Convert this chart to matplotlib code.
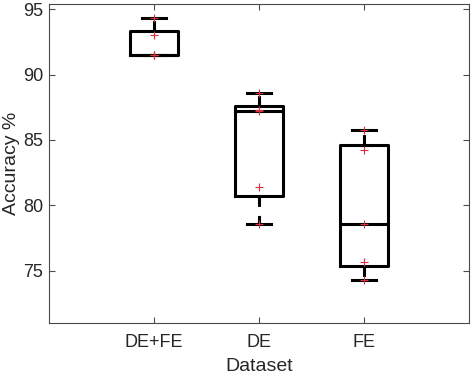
import numpy as np
import matplotlib
matplotlib.use("Agg")
import matplotlib.pyplot as plt

plt.rcParams["font.family"] = ["Liberation Sans", "DejaVu Sans"]
plt.rcParams["lines.scale_dashes"] = False

# accuracy values per dataset
labels = ["DE+FE", "DE", "FE"]
acc_defe = [91.47, 91.47, 91.47, 93.0, 94.36]
acc_de = [78.6, 81.4, 87.25, 87.3, 88.6]
acc_fe = [74.3, 75.7, 78.55, 84.27, 85.73]
groups = [acc_defe, acc_de, acc_fe]


def box_stats(vals, label):
    # matlab-style percentiles
    v = np.sort(np.asarray(vals))
    q1, med, q3 = np.percentile(v, [25, 50, 75], method="hazen")
    iqr = q3 - q1
    lo = v[v >= q1 - 1.5 * iqr].min()
    hi = v[v <= q3 + 1.5 * iqr].max()
    return dict(med=med, q1=q1, q3=q3, whislo=lo, whishi=hi, fliers=[], label=label)


stats = [box_stats(g, l) for g, l in zip(groups, labels)]
pos = np.arange(1, len(groups) + 1)

fig = plt.figure(figsize=(4.74, 3.74), dpi=100)
ax = fig.add_axes([49 / 474, 51 / 374, 420 / 474, 319 / 374])

lw = 2.2
ax.bxp(stats, positions=pos, widths=0.45, capwidths=0.23, showfliers=False,
       boxprops=dict(color="black", linewidth=lw),
       medianprops=dict(color="black", linewidth=lw),
       whiskerprops=dict(color="black", linewidth=lw, linestyle=(0, (7.5, 6.5))),
       capprops=dict(color="black", linewidth=lw))

for p, g in zip(pos, groups):
    ax.plot([p] * len(g), g, "+", color="#d9303f", markersize=6, markeredgewidth=0.8, zorder=5)

ax.set_xlim(0, 4)
ax.set_ylim(71, 95.4)
ax.set_xticks(pos)
ax.set_xticklabels(labels)
ax.set_yticks([75, 80, 85, 90, 95])

for s in ax.spines.values():
    s.set_color("#4a4a4a")
    s.set_linewidth(0.8)
ax.tick_params(direction="in", length=4, width=0.8, color="#4a4a4a",
               labelcolor="#262626", labelsize=13, top=True, right=True)
ax.tick_params(axis="x", pad=8)
ax.tick_params(axis="y", pad=4)

ax.set_xlabel("Dataset", fontsize=14, color="#262626")
ax.set_ylabel("Accuracy %", fontsize=14, color="#262626")
ax.xaxis.set_label_coords(0.5, -0.11)
ax.yaxis.set_label_coords(-0.07, 0.5)

fig.savefig("out.png", dpi=100)
